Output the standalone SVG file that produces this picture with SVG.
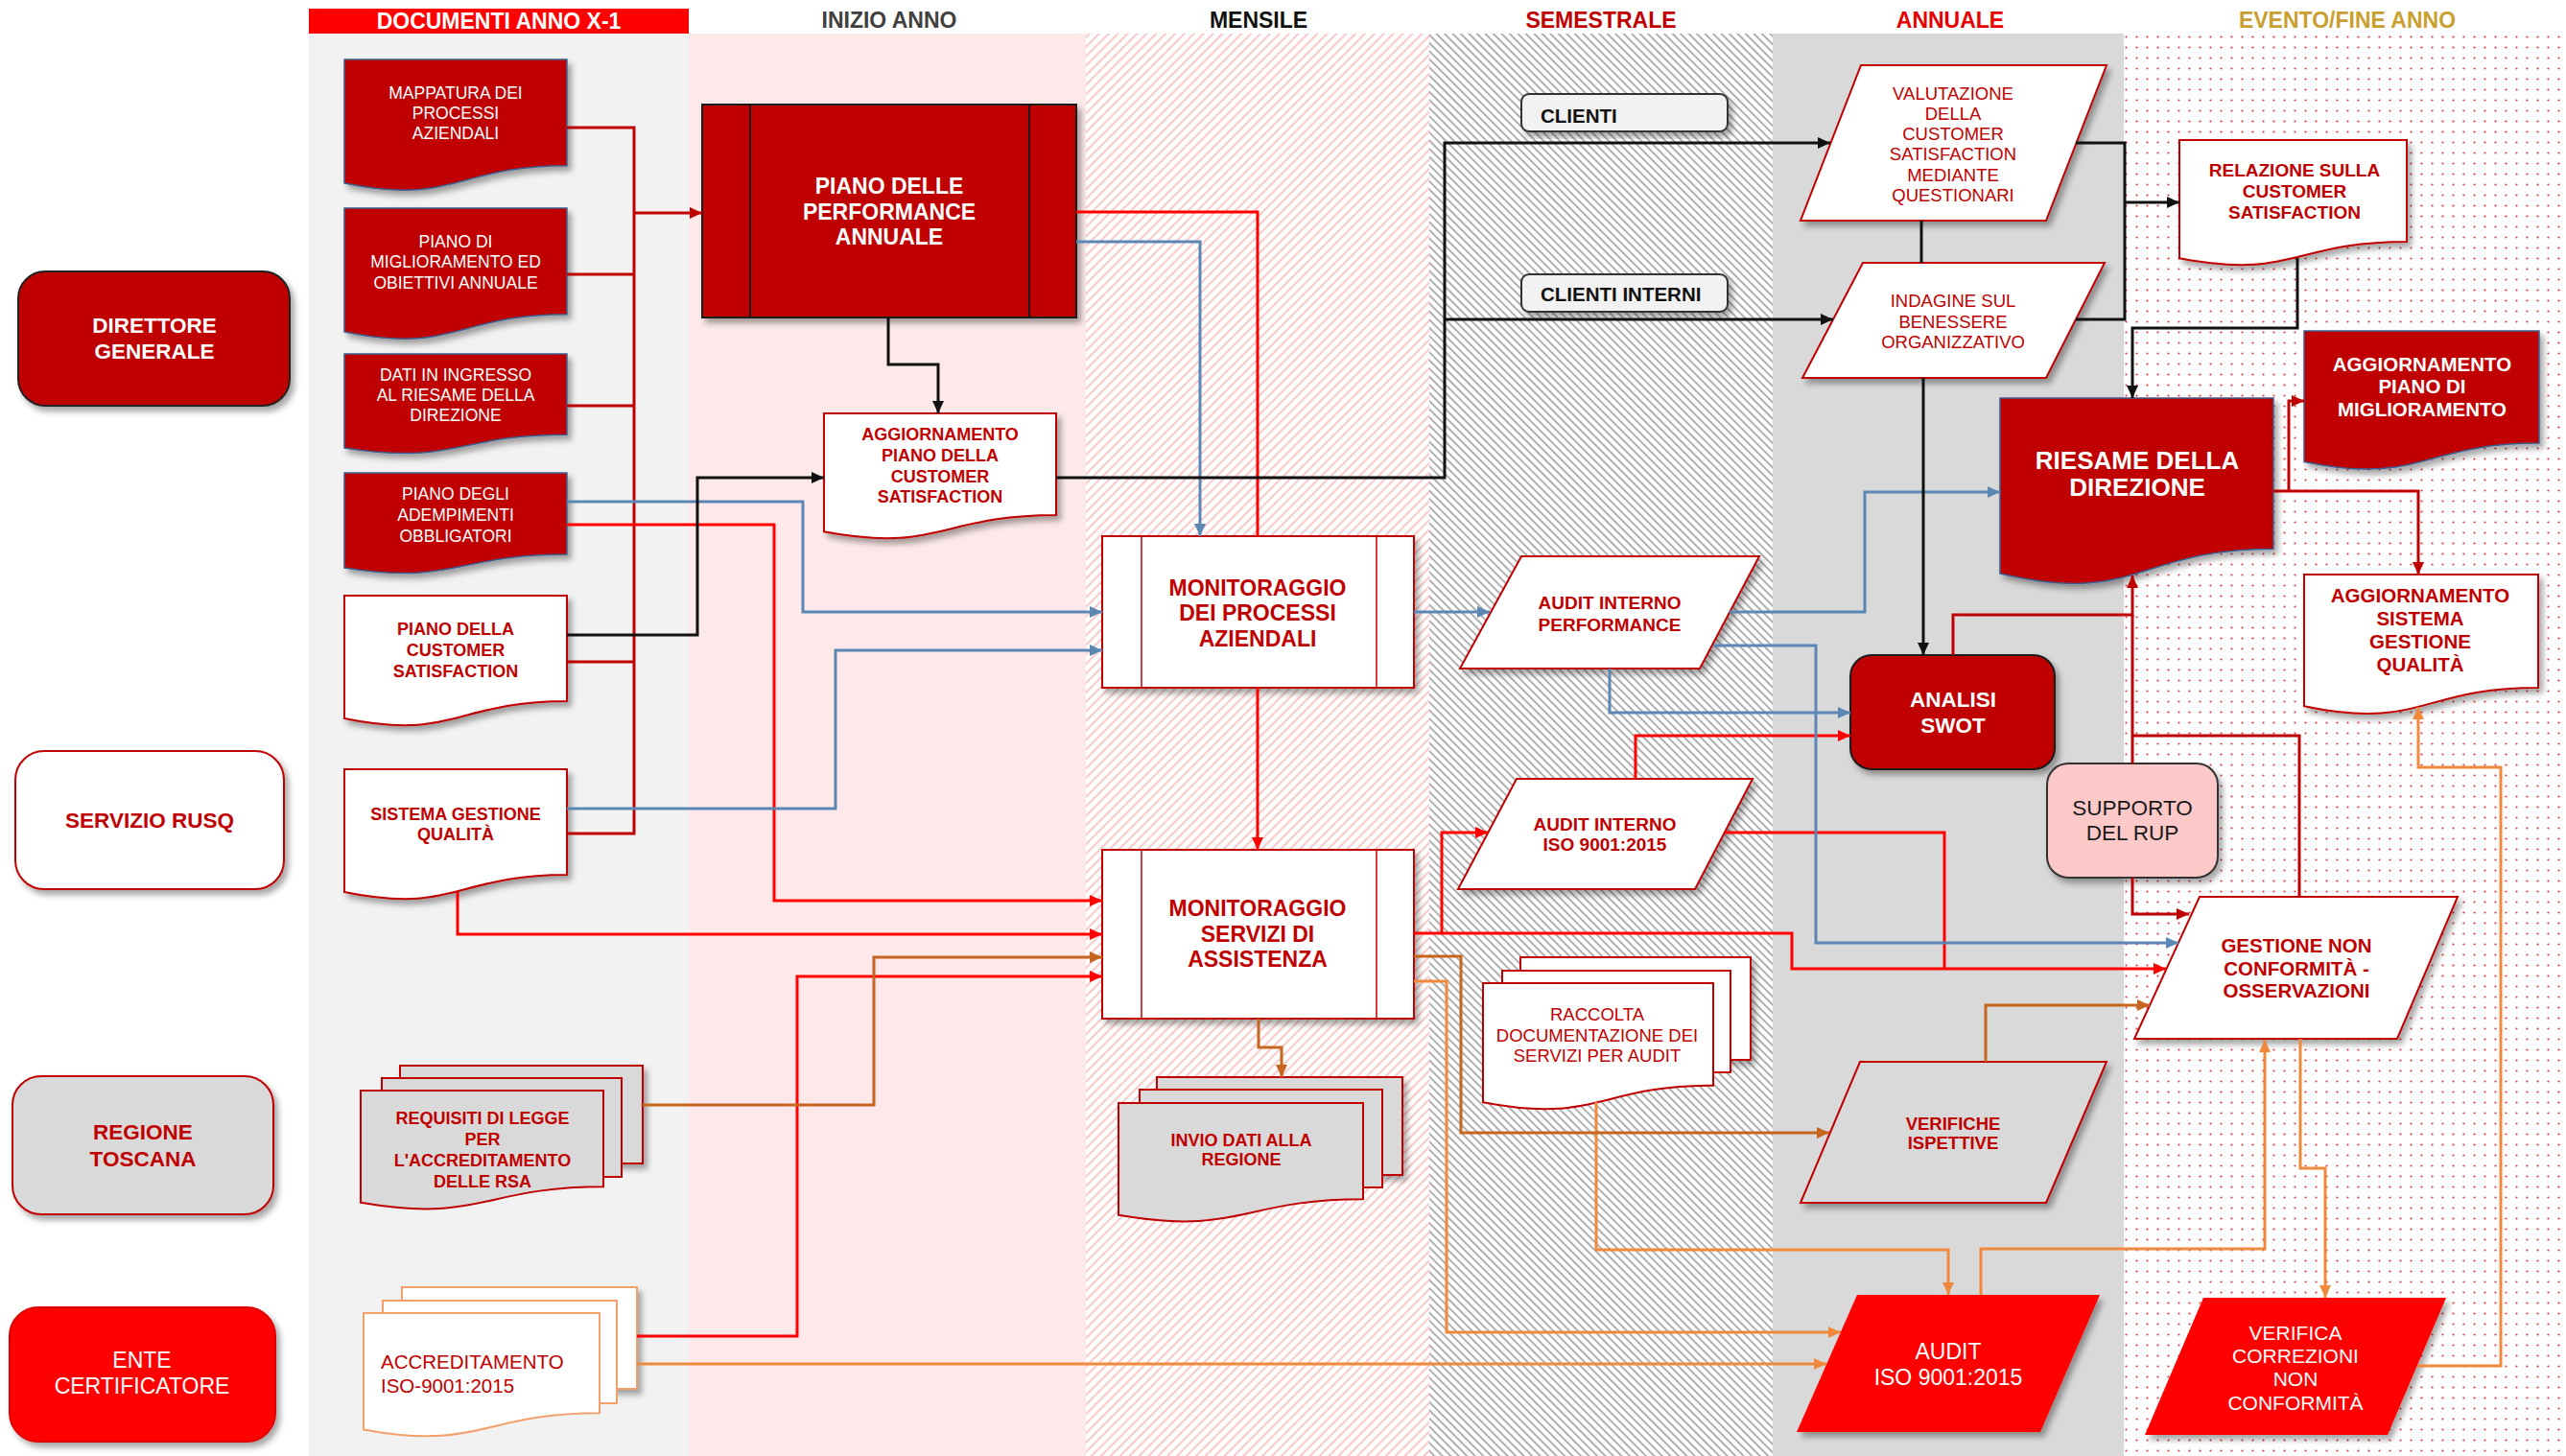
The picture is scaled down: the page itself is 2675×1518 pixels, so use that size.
<svg xmlns="http://www.w3.org/2000/svg" width="2675" height="1518" viewBox="0 0 2675 1518">
<defs>
<style>
text{font-family:"Liberation Sans",Arial,sans-serif;text-anchor:middle}
.hd{font-size:23px;font-weight:bold}
.wb{fill:#fff;font-weight:bold}
.wr{fill:#fff}
.rb{fill:#c00000;font-weight:bold}
.rr{fill:#c00000}
.c{fill:none;stroke-width:3;stroke-linejoin:miter}
.dr{stroke:#c00000}
.br{stroke:#ff0000}
.bl{stroke:#5b87b5}
.bk{stroke:#111}
.or{stroke:#f0893b}
.do{stroke:#c5651e}
.ndr{fill:#c00000;stroke:#3d5f8f;stroke-width:1.5}
.nw{fill:#fff;stroke:#c00000;stroke-width:2}
.ng{fill:#d9d9d9;stroke:#c00000;stroke-width:2}
</style>
<filter id="sh" x="-10%" y="-10%" width="125%" height="130%">
<feDropShadow dx="4" dy="5" stdDeviation="3" flood-color="#000" flood-opacity="0.35"/>
</filter>
<pattern id="hr" patternUnits="userSpaceOnUse" width="7" height="7" patternTransform="rotate(45)">
<rect width="7" height="7" fill="#fff"/>
<line x1="2" y1="0" x2="2" y2="7" stroke="#f6abab" stroke-width="1.3"/>
</pattern>
<pattern id="hg" patternUnits="userSpaceOnUse" width="6" height="6" patternTransform="rotate(-45)">
<rect width="6" height="6" fill="#fff"/>
<line x1="2" y1="0" x2="2" y2="6" stroke="#a8a8a8" stroke-width="1.8"/>
</pattern>
<pattern id="dots" patternUnits="userSpaceOnUse" width="11" height="11">
<rect width="11" height="11" fill="#fff"/>
<circle cx="5.5" cy="5.5" r="1.1" fill="#e23a3a"/>
</pattern>
<marker id="aDR" markerUnits="userSpaceOnUse" markerWidth="14" markerHeight="12" refX="13" refY="6" orient="auto"><path d="M0,0 L13,6 L0,12 z" fill="#c00000"/></marker>
<marker id="aBR" markerUnits="userSpaceOnUse" markerWidth="14" markerHeight="12" refX="13" refY="6" orient="auto"><path d="M0,0 L13,6 L0,12 z" fill="#ff0000"/></marker>
<marker id="aBL" markerUnits="userSpaceOnUse" markerWidth="14" markerHeight="12" refX="13" refY="6" orient="auto"><path d="M0,0 L13,6 L0,12 z" fill="#5b87b5"/></marker>
<marker id="aBK" markerUnits="userSpaceOnUse" markerWidth="14" markerHeight="12" refX="13" refY="6" orient="auto"><path d="M0,0 L13,6 L0,12 z" fill="#111"/></marker>
<marker id="aOR" markerUnits="userSpaceOnUse" markerWidth="14" markerHeight="12" refX="13" refY="6" orient="auto"><path d="M0,0 L13,6 L0,12 z" fill="#f0893b"/></marker>
<marker id="aDO" markerUnits="userSpaceOnUse" markerWidth="14" markerHeight="12" refX="13" refY="6" orient="auto"><path d="M0,0 L13,6 L0,12 z" fill="#c5651e"/></marker>
</defs>

<g id="lanes">
<rect x="0" y="0" width="2675" height="1518" fill="#fff"/>
<rect x="322" y="35" width="396" height="1483" fill="#f2f2f2"/>
<rect x="718" y="35" width="414" height="1483" fill="#fde9e9"/>
<rect x="1132" y="35" width="358" height="1483" fill="url(#hr)"/>
<rect x="1490" y="35" width="358" height="1483" fill="url(#hg)"/>
<rect x="1848" y="35" width="366" height="1483" fill="#d9d9d9"/>
<rect x="2214" y="35" width="461" height="1483" fill="url(#dots)"/>
<rect x="322" y="9" width="396" height="26" fill="#ff0000"/>
<text class="hd" x="520" y="30" fill="#fff">DOCUMENTI ANNO X-1</text>
<text class="hd" x="927" y="29" fill="#404040">INIZIO ANNO</text>
<text class="hd" x="1312" y="29" fill="#111">MENSILE</text>
<text class="hd" x="1669" y="29" fill="#c00000">SEMESTRALE</text>
<text class="hd" x="2033" y="29" fill="#e60000">ANNUALE</text>
<text class="hd" x="2447" y="29" fill="#c9a030">EVENTO/FINE ANNO</text>
</g>

<g id="direttore">
<rect x="19" y="283" width="283" height="140" rx="28" fill="#c00000" stroke="#222" stroke-width="2" filter="url(#sh)"/>
<text class="wb" font-size="22.5"><tspan x="161" y="347">DIRETTORE</tspan><tspan x="161" y="374">GENERALE</tspan></text>
</g>
<g id="rusq">
<rect x="16" y="783" width="280" height="144" rx="30" class="nw" filter="url(#sh)"/>
<text class="rb" font-size="22.5" x="156" y="863">SERVIZIO RUSQ</text>
</g>
<g id="regione">
<rect x="13" y="1122" width="272" height="144" rx="30" class="ng" filter="url(#sh)"/>
<text class="rb" font-size="22.5"><tspan x="149" y="1188">REGIONE</tspan><tspan x="149" y="1216">TOSCANA</tspan></text>
</g>
<g id="ente">
<rect x="10" y="1363" width="277" height="140" rx="30" fill="#ff0000" stroke="#e00000" stroke-width="2" filter="url(#sh)"/>
<text class="wr" font-size="23"><tspan x="148" y="1426">ENTE</tspan><tspan x="148" y="1453">CERTIFICATORE</tspan></text>
</g>

<g id="mappatura">
<path class="ndr" filter="url(#sh)" d="M359,62 H591 V172.7 C475,172.7 475,214.8 359,190.9 Z"/>
<text class="wr" font-size="17.5"><tspan x="475" y="103">MAPPATURA DEI</tspan><tspan x="475" y="124">PROCESSI</tspan><tspan x="475" y="145">AZIENDALI</tspan></text>
</g>
<g id="piano-miglioramento">
<path class="ndr" filter="url(#sh)" d="M359,217 H591 V327.7 C475,327.7 475,369.8 359,345.9 Z"/>
<text class="wr" font-size="17.5"><tspan x="475" y="258">PIANO DI</tspan><tspan x="475" y="279">MIGLIORAMENTO ED</tspan><tspan x="475" y="301">OBIETTIVI ANNUALE</tspan></text>
</g>
<g id="dati-ingresso">
<path class="ndr" filter="url(#sh)" d="M359,369 H591 V453.2 C475,453.2 475,485.2 359,467.1 Z"/>
<text class="wr" font-size="17.5"><tspan x="475" y="397">DATI IN INGRESSO</tspan><tspan x="475" y="418">AL RIESAME DELLA</tspan><tspan x="475" y="439">DIREZIONE</tspan></text>
</g>
<g id="piano-adempimenti">
<path class="ndr" filter="url(#sh)" d="M359,493 H591 V578 C475,578 475,610.3 359,592 Z"/>
<text class="wr" font-size="17.5"><tspan x="475" y="521">PIANO DEGLI</tspan><tspan x="475" y="543">ADEMPIMENTI</tspan><tspan x="475" y="565">OBBLIGATORI</tspan></text>
</g>
<g id="piano-cs">
<path class="nw" filter="url(#sh)" d="M359,621 H591 V730.9 C475,730.9 475,772.7 359,749 Z"/>
<text class="rb" font-size="18"><tspan x="475" y="661.5">PIANO DELLA</tspan><tspan x="475" y="683.5">CUSTOMER</tspan><tspan x="475" y="705.5">SATISFACTION</tspan></text>
</g>
<g id="sistema-gq">
<path class="nw" filter="url(#sh)" d="M359,802 H591 V911.9 C475,911.9 475,953.7 359,930 Z"/>
<text class="rb" font-size="18"><tspan x="475" y="854.5">SISTEMA GESTIONE</tspan><tspan x="475" y="875.5">QUALITÀ</tspan></text>
</g>
<g id="requisiti">
<rect x="417" y="1111" width="253" height="102" class="ng" filter="url(#sh)"/>
<rect x="398" y="1124" width="250" height="103" class="ng"/>
<path class="ng" d="M376,1137 H629 V1237.3 C502.5,1237.3 502.5,1275.4 376,1253.8 Z"/>
<text class="rb" font-size="18"><tspan x="503" y="1171.5">REQUISITI DI LEGGE</tspan><tspan x="503" y="1193.5">PER</tspan><tspan x="503" y="1215.5">L'ACCREDITAMENTO</tspan><tspan x="503" y="1237.5">DELLE RSA</tspan></text>
</g>
<g id="accreditamento">
<rect x="419" y="1342" width="245" height="106" fill="#fff" stroke="#f4a06a" stroke-width="2" filter="url(#sh)"/>
<rect x="399" y="1356" width="244" height="107" fill="#fff" stroke="#f4a06a" stroke-width="2"/>
<path fill="#fff" stroke="#f4a06a" stroke-width="2" d="M379,1369 H625 V1473.3 C502,1473.3 502,1512.9 379,1490.4 Z"/>
<text class="rr" font-size="20.5" style="text-anchor:start"><tspan x="397" y="1427">ACCREDITAMENTO</tspan><tspan x="397" y="1452">ISO-9001:2015</tspan></text>
</g>

<g id="piano-performance">
<rect x="732" y="109" width="390" height="222" fill="#c00000" stroke="#1a1a1a" stroke-width="2" filter="url(#sh)"/>
<line x1="782" y1="109" x2="782" y2="331" stroke="#1a1a1a" stroke-width="2"/>
<line x1="1073" y1="109" x2="1073" y2="331" stroke="#1a1a1a" stroke-width="2"/>
<text class="wb" font-size="23"><tspan x="927" y="202">PIANO DELLE</tspan><tspan x="927" y="229">PERFORMANCE</tspan><tspan x="927" y="255">ANNUALE</tspan></text>
</g>
<g id="agg-piano-cs">
<path class="nw" filter="url(#sh)" d="M859,431 H1101 V536.9 C980,536.9 980,577.1 859,554.3 Z"/>
<text class="rb" font-size="18"><tspan x="980" y="458.5">AGGIORNAMENTO</tspan><tspan x="980" y="480.5">PIANO DELLA</tspan><tspan x="980" y="502.5">CUSTOMER</tspan><tspan x="980" y="523.5">SATISFACTION</tspan></text>
</g>

<g id="monitoraggio-processi">
<rect x="1149" y="559" width="325" height="158" class="nw" filter="url(#sh)"/>
<line x1="1190" y1="559" x2="1190" y2="717" stroke="#c00000" stroke-width="1.5"/>
<line x1="1435" y1="559" x2="1435" y2="717" stroke="#c00000" stroke-width="1.5"/>
<text class="rb" font-size="23"><tspan x="1311" y="621">MONITORAGGIO</tspan><tspan x="1311" y="647">DEI PROCESSI</tspan><tspan x="1311" y="674">AZIENDALI</tspan></text>
</g>
<g id="monitoraggio-servizi">
<rect x="1149" y="886" width="325" height="176" class="nw" filter="url(#sh)"/>
<line x1="1190" y1="886" x2="1190" y2="1062" stroke="#c00000" stroke-width="1.5"/>
<line x1="1435" y1="886" x2="1435" y2="1062" stroke="#c00000" stroke-width="1.5"/>
<text class="rb" font-size="23"><tspan x="1311" y="955">MONITORAGGIO</tspan><tspan x="1311" y="982">SERVIZI DI</tspan><tspan x="1311" y="1008">ASSISTENZA</tspan></text>
</g>
<g id="invio-dati">
<rect x="1206" y="1123" width="256" height="102" class="ng" filter="url(#sh)"/>
<rect x="1188" y="1136" width="253" height="102" class="ng"/>
<path class="ng" d="M1166,1150 H1421 V1250.3 C1293.5,1250.3 1293.5,1288.4 1166,1266.8 Z"/>
<text class="rb" font-size="18"><tspan x="1294" y="1194.5">INVIO DATI ALLA</tspan><tspan x="1294" y="1214.5">REGIONE</tspan></text>
</g>

<g id="clienti">
<rect x="1586" y="98" width="215" height="39" rx="8" fill="#f2f2f2" stroke="#333" stroke-width="2" filter="url(#sh)"/>
<text font-size="20.5" font-weight="bold" fill="#111" style="text-anchor:start" x="1606" y="128">CLIENTI</text>
</g>
<g id="clienti-interni">
<rect x="1586" y="286" width="215" height="39" rx="8" fill="#f2f2f2" stroke="#333" stroke-width="2" filter="url(#sh)"/>
<text font-size="20.5" font-weight="bold" fill="#111" style="text-anchor:start" x="1606" y="314">CLIENTI INTERNI</text>
</g>
<g id="audit-performance">
<polygon class="nw" filter="url(#sh)" points="1586,580 1834,580 1772,697 1522,697"/>
<text class="rb" font-size="19"><tspan x="1678" y="635">AUDIT INTERNO</tspan><tspan x="1678" y="658">PERFORMANCE</tspan></text>
</g>
<g id="audit-iso-interno">
<polygon class="nw" filter="url(#sh)" points="1581,812 1827,812 1767,927 1520,927"/>
<text class="rb" font-size="19"><tspan x="1673" y="866">AUDIT INTERNO</tspan><tspan x="1673" y="887">ISO 9001:2015</tspan></text>
</g>
<g id="raccolta">
<rect x="1585" y="998" width="240" height="107" class="nw" filter="url(#sh)"/>
<rect x="1566" y="1012" width="238" height="106" class="nw"/>
<path class="nw" d="M1546,1025 H1786 V1131.7 C1666,1131.7 1666,1172.2 1546,1149.2 Z"/>
<text class="rr" font-size="18.5"><tspan x="1665" y="1063.5">RACCOLTA</tspan><tspan x="1665" y="1085.5">DOCUMENTAZIONE DEI</tspan><tspan x="1665" y="1106.5">SERVIZI PER AUDIT</tspan></text>
</g>

<g id="valutazione-cs">
<polygon class="nw" filter="url(#sh)" points="1940,68 2196,68 2133,230 1877,230"/>
<text class="rr" font-size="18.5"><tspan x="2036" y="103.5">VALUTAZIONE</tspan><tspan x="2036" y="124.5">DELLA</tspan><tspan x="2036" y="146">CUSTOMER</tspan><tspan x="2036" y="167">SATISFACTION</tspan><tspan x="2036" y="188.5">MEDIANTE</tspan><tspan x="2036" y="209.5">QUESTIONARI</tspan></text>
</g>
<g id="indagine-benessere">
<polygon class="nw" filter="url(#sh)" points="1942,274 2194,274 2133,394 1879,394"/>
<text class="rr" font-size="18.5"><tspan x="2036" y="319.5">INDAGINE SUL</tspan><tspan x="2036" y="341.5">BENESSERE</tspan><tspan x="2036" y="362.5">ORGANIZZATIVO</tspan></text>
</g>
<g id="riesame">
<path class="ndr" filter="url(#sh)" d="M2085,415 H2370 V572.2 C2227.5,572.2 2227.5,632 2085,598.1 Z"/>
<text class="wb" font-size="26"><tspan x="2228" y="489">RIESAME DELLA</tspan><tspan x="2228" y="517">DIREZIONE</tspan></text>
</g>
<g id="analisi-swot">
<rect x="1929" y="683" width="213" height="119" rx="22" fill="#c00000" stroke="#1a1a1a" stroke-width="2" filter="url(#sh)"/>
<text class="wb" font-size="22.5"><tspan x="2036" y="737">ANALISI</tspan><tspan x="2036" y="764">SWOT</tspan></text>
</g>
<g id="supporto-rup">
<rect x="2134" y="796" width="178" height="119" rx="22" fill="#fcc8c8" stroke="#333" stroke-width="2" filter="url(#sh)"/>
<text font-size="22.5" fill="#1a1a1a"><tspan x="2223" y="850">SUPPORTO</tspan><tspan x="2223" y="876">DEL RUP</tspan></text>
</g>
<g id="verifiche-ispettive">
<polygon class="ng" filter="url(#sh)" points="1939,1107 2196,1107 2133,1254 1877,1254"/>
<text class="rb" font-size="18.5"><tspan x="2036" y="1177.5">VERIFICHE</tspan><tspan x="2036" y="1197.5">ISPETTIVE</tspan></text>
</g>
<g id="audit-iso">
<polygon fill="#ff0000" filter="url(#sh)" points="1936,1350 2189,1350 2127,1493 1873,1493"/>
<text class="wr" font-size="23"><tspan x="2031" y="1417">AUDIT</tspan><tspan x="2031" y="1444">ISO 9001:2015</tspan></text>
</g>

<g id="relazione-cs">
<path class="nw" filter="url(#sh)" d="M2272,146 H2509 V251.9 C2390.5,251.9 2390.5,292.1 2272,269.3 Z"/>
<text class="rb" font-size="19"><tspan x="2392" y="184">RELAZIONE SULLA</tspan><tspan x="2392" y="206">CUSTOMER</tspan><tspan x="2392" y="228">SATISFACTION</tspan></text>
</g>
<g id="agg-piano-miglioramento">
<path class="ndr" filter="url(#sh)" d="M2402,345 H2647 V462.1 C2524.5,462.1 2524.5,506.6 2402,481.4 Z"/>
<text class="wb" font-size="20.5"><tspan x="2525" y="387">AGGIORNAMENTO</tspan><tspan x="2525" y="410">PIANO DI</tspan><tspan x="2525" y="434">MIGLIORAMENTO</tspan></text>
</g>
<g id="agg-sistema-gq">
<path class="nw" filter="url(#sh)" d="M2402,599 H2646 V716.9 C2524,716.9 2524,761.7 2402,736.3 Z"/>
<text class="rb" font-size="20.5"><tspan x="2523" y="628">AGGIORNAMENTO</tspan><tspan x="2523" y="652">SISTEMA</tspan><tspan x="2523" y="676">GESTIONE</tspan><tspan x="2523" y="700">QUALITÀ</tspan></text>
</g>
<g id="gestione-nc">
<polygon class="nw" filter="url(#sh)" points="2293,935 2562,935 2499,1083 2225,1083"/>
<text class="rb" font-size="20.5"><tspan x="2394" y="993">GESTIONE NON</tspan><tspan x="2394" y="1017">CONFORMITÀ -</tspan><tspan x="2394" y="1040">OSSERVAZIONI</tspan></text>
</g>
<g id="verifica-correzioni">
<polygon fill="#ff0000" filter="url(#sh)" points="2297,1353 2550,1353 2489,1496 2236,1496"/>
<text class="wr" font-size="21"><tspan x="2393" y="1396.5">VERIFICA</tspan><tspan x="2393" y="1420.5">CORREZIONI</tspan><tspan x="2393" y="1444.5">NON</tspan><tspan x="2393" y="1469.5">CONFORMITÀ</tspan></text>
</g>

<g id="connectors">
<path class="c dr" d="M591,133 H661 V869 H591 M591,286 H661 M591,423 H661 M591,690 H661"/>
<path class="c dr" d="M661,222 H732" marker-end="url(#aDR)"/>
<path class="c dr" d="M2036,683 V641 H2223 V600" marker-end="url(#aDR)"/>
<path class="c dr" d="M2223,796 V641 M2397,935 V767 H2223"/>
<path class="c dr" d="M2223,915 V953 H2282" marker-end="url(#aDR)"/>
<path class="c dr" d="M2370,512 H2521 V599" marker-end="url(#aDR)"/>
<path class="c dr" d="M2386,512 V418 H2402" marker-end="url(#aDR)"/>

<path class="c br" d="M1122,221 H1311 V559"/>
<path class="c br" d="M1311,717 V886" marker-end="url(#aBR)"/>
<path class="c br" d="M591,547 H807 V939 H1149" marker-end="url(#aBR)"/>
<path class="c br" d="M477,930 V974 H1149" marker-end="url(#aBR)"/>
<path class="c br" d="M664,1393 H831 V1018 H1149" marker-end="url(#aBR)"/>
<path class="c br" d="M1474,973 H1868 V1010 H2258" marker-end="url(#aBR)"/>
<path class="c br" d="M1503,973 V868 H1551" marker-end="url(#aBR)"/>
<path class="c br" d="M1798,868 H2027 V1010"/>
<path class="c br" d="M1705,812 V767 H1929" marker-end="url(#aBR)"/>

<path class="c bl" d="M1122,252 H1251 V559" marker-end="url(#aBL)"/>
<path class="c bl" d="M591,523 H837 V638 H1149" marker-end="url(#aBL)"/>
<path class="c bl" d="M591,843 H871 V678 H1149" marker-end="url(#aBL)"/>
<path class="c bl" d="M1474,638 H1553" marker-end="url(#aBL)"/>
<path class="c bl" d="M1803,638 H1944 V513 H2085" marker-end="url(#aBL)"/>
<path class="c bl" d="M1786,673 H1893 V983 H2271" marker-end="url(#aBL)"/>
<path class="c bl" d="M1678,697 V743 H1929" marker-end="url(#aBL)"/>

<path class="c bk" d="M926,331 V380 H978 V431" marker-end="url(#aBK)"/>
<path class="c bk" d="M591,662 H727 V498 H859" marker-end="url(#aBK)"/>
<path class="c bk" d="M1101,498 H1506 V149 H1908" marker-end="url(#aBK)"/>
<path class="c bk" d="M1506,333 H1911" marker-end="url(#aBK)"/>
<path class="c bk" d="M2003,230 V274"/>
<path class="c bk" d="M2005,394 V683" marker-end="url(#aBK)"/>
<path class="c bk" d="M2164,149 H2215 V333 H2164"/>
<path class="c bk" d="M2215,211 H2272" marker-end="url(#aBK)"/>
<path class="c bk" d="M2395,269 V342 H2223 V415" marker-end="url(#aBK)"/>

<path class="c or" d="M664,1422 H1904" marker-end="url(#aOR)"/>
<path class="c or" d="M1474,1023 H1508 V1389 H1919" marker-end="url(#aOR)"/>
<path class="c or" d="M1664,1149 V1303 H2031 V1350" marker-end="url(#aOR)"/>
<path class="c or" d="M2065,1350 V1302 H2361 V1084" marker-end="url(#aOR)"/>
<path class="c or" d="M2398,1083 V1218 H2424 V1353" marker-end="url(#aOR)"/>
<path class="c or" d="M2520,1424 H2607 V800 H2521 V737" marker-end="url(#aOR)"/>

<path class="c do" d="M670,1152 H911 V998 H1149" marker-end="url(#aDO)"/>
<path class="c do" d="M1312,1062 V1092 H1336 V1123" marker-end="url(#aDO)"/>
<path class="c do" d="M1474,997 H1523 V1181 H1907" marker-end="url(#aDO)"/>
<path class="c do" d="M2070,1107 V1048 H2241" marker-end="url(#aDO)"/>
</g>
</svg>
